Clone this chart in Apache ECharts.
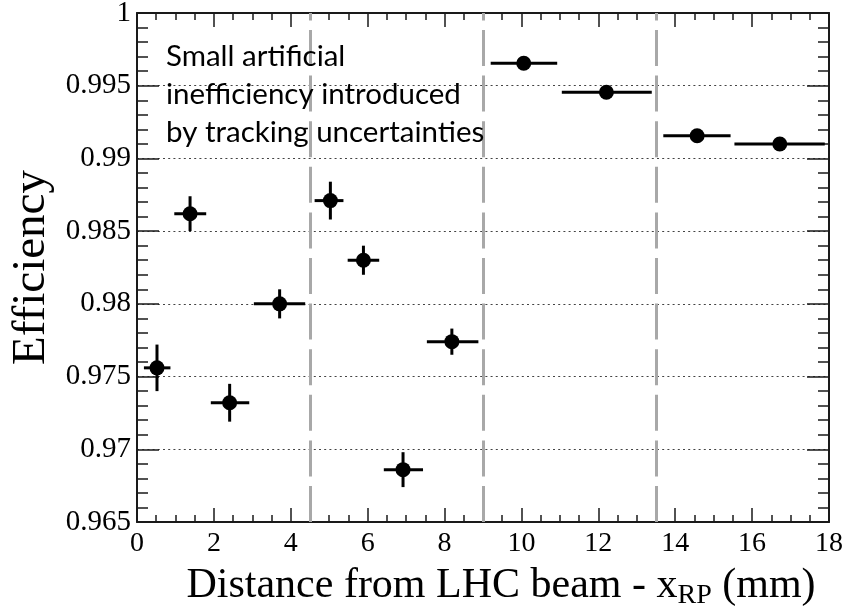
<!DOCTYPE html>
<html>
<head>
<meta charset="utf-8">
<script src="https://cdn.jsdelivr.net/npm/echarts@6/dist/echarts.min.js"></script>
<style>
html,body{margin:0;padding:0;background:#fff;}
#chart{width:846px;height:608px;}
</style>
</head>
<body>
<div id="chart"></div>
<script>
// ---- data ----
const xCenter = [0.52, 1.38, 2.41, 3.71, 5.03, 5.89, 6.92, 8.19, 10.06, 12.21, 14.57, 16.72];
const yValue  = [0.9756, 0.9862, 0.9732, 0.9800, 0.9871, 0.9830, 0.9686, 0.9774, 0.99654, 0.99455, 0.99156, 0.99099];
const xLow    = [0.18, 0.97, 1.92, 3.04, 4.62, 5.48, 6.42, 7.54, 9.20, 11.05, 13.69, 15.54];
const xHigh   = [0.87, 1.80, 2.92, 4.375, 5.37, 6.30, 7.44, 8.88, 10.93, 13.39, 15.44, 17.89];
const yErr    = [0.0016, 0.0012, 0.0013, 0.0010, 0.0013, 0.0010, 0.0012, 0.0009, 0.0001, 0.0001, 0.0002, 0.0001];
const boundaries = [4.5, 9, 13.5];
const xTickLabels = ['0','2','4','6','8','10','12','14','16','18'];
const yTickLabels = ['0.965','0.97','0.975','0.98','0.985','0.99','0.995','1'];
const annotation = ['Small artificial', 'inefficiency introduced', 'by tracking uncertainties'];

const points = xCenter.map((x, i) => [x, yValue[i]]);
const errData = xCenter.map((x, i) => [x, yValue[i], xLow[i], xHigh[i], yValue[i] - yErr[i], yValue[i] + yErr[i]]);

const frame = '#1a1a1a';
const serif = 'Liberation Serif';

function yLabel(v) {
  const idx = Math.round((v - 0.965) / 0.005);
  return yTickLabels[idx] !== undefined ? yTickLabels[idx] : '';
}
function xLabel(v) {
  const idx = Math.round(v / 2);
  return xTickLabels[idx] !== undefined ? xTickLabels[idx] : '';
}

const chart = echarts.init(document.getElementById('chart'));
chart.setOption({
  backgroundColor: '#fff',
  animation: false,
  textStyle: { fontFamily: serif },
  grid: { left: 137, right: 17, top: 13, bottom: 86, containLabel: false, outerBoundsMode: 'none' },
  xAxis: [{
    type: 'value', min: 0, max: 18, interval: 2, position: 'bottom',
    name: 'Distance from LHC beam - x{sub|RP} (mm)',
    nameLocation: 'middle', nameGap: 40,
    nameTextStyle: {
      fontFamily: serif, fontSize: 42, color: '#000', padding: [0, 0, 0, 36],
      rich: { sub: { fontFamily: serif, fontSize: 28, color: '#000', padding: [20, 0, 0, 0] } }
    },
    axisLine: { show: true, onZero: false, lineStyle: { color: frame, width: 2 } },
    axisTick: { show: true, inside: true, length: 14, lineStyle: { color: frame, width: 1.5 } },
    minorTick: { show: true, splitNumber: 4, length: 7, lineStyle: { color: frame, width: 1.5 } },
    axisLabel: { formatter: xLabel, fontFamily: serif, fontSize: 28, color: '#000', margin: 8 },
    splitLine: { show: false }
  }, {
    type: 'value', min: 0, max: 18, interval: 2, position: 'top',
    axisLine: { show: true, onZero: false, lineStyle: { color: frame, width: 2 } },
    axisTick: { show: true, inside: true, length: 14, lineStyle: { color: frame, width: 1.5 } },
    minorTick: { show: true, splitNumber: 4, length: 7, lineStyle: { color: frame, width: 1.5 } },
    axisLabel: { show: false },
    splitLine: { show: false }
  }],
  yAxis: [{
    type: 'value', min: 0.965, max: 1, interval: 0.005, position: 'left',
    name: 'Efficiency', nameLocation: 'middle', nameGap: 76,
    nameTextStyle: { fontFamily: serif, fontSize: 47, color: '#000' },
    axisLine: { show: true, onZero: false, lineStyle: { color: frame, width: 2 } },
    axisTick: { show: true, inside: true, length: 22, lineStyle: { color: frame, width: 1.5 } },
    minorTick: { show: true, splitNumber: 5, length: 11, lineStyle: { color: frame, width: 1.5 } },
    axisLabel: { formatter: yLabel, fontFamily: serif, fontSize: 29, color: '#000', margin: 6 },
    splitLine: { show: true, lineStyle: { color: '#444', width: 1, type: [2, 3.2] } }
  }, {
    type: 'value', min: 0.965, max: 1, interval: 0.005, position: 'right',
    axisLine: { show: true, onZero: false, lineStyle: { color: frame, width: 2 } },
    axisTick: { show: true, inside: true, length: 22, lineStyle: { color: frame, width: 1.5 } },
    minorTick: { show: true, splitNumber: 5, length: 11, lineStyle: { color: frame, width: 1.5 } },
    axisLabel: { show: false },
    splitLine: { show: false }
  }],
  series: [{
    type: 'custom',
    xAxisIndex: 0, yAxisIndex: 0,
    data: errData,
    z: 3,
    silent: true,
    renderItem: function (params, api) {
      const y = api.value(1);
      const x = api.value(0);
      const pL = api.coord([api.value(2), y]);
      const pR = api.coord([api.value(3), y]);
      const pB = api.coord([x, api.value(4)]);
      const pT = api.coord([x, api.value(5)]);
      const style = { stroke: '#000', lineWidth: 3 };
      return {
        type: 'group',
        children: [
          { type: 'line', shape: { x1: pL[0], y1: pL[1], x2: pR[0], y2: pR[1] }, style: style },
          { type: 'line', shape: { x1: pB[0], y1: pB[1], x2: pT[0], y2: pT[1] }, style: style }
        ]
      };
    }
  }, {
    type: 'scatter',
    xAxisIndex: 0, yAxisIndex: 0,
    data: points,
    symbol: 'circle', symbolSize: 15,
    itemStyle: { color: '#000', opacity: 1 },
    z: 4,
    markLine: {
      silent: true, symbol: 'none', label: { show: false },
      lineStyle: { color: '#a8a8a8', width: 3, type: [36, 9.6], opacity: 1 },
      data: boundaries.map(b => ({ xAxis: b }))
    }
  }],
  graphic: [{
    type: 'text', left: 166, top: 37, z: 10,
    style: {
      text: annotation.join('\n'),
      fontFamily: 'Lato', fontSize: 29.5, lineHeight: 38,
      fill: '#000'
    }
  }]
});
</script>
</body>
</html>
